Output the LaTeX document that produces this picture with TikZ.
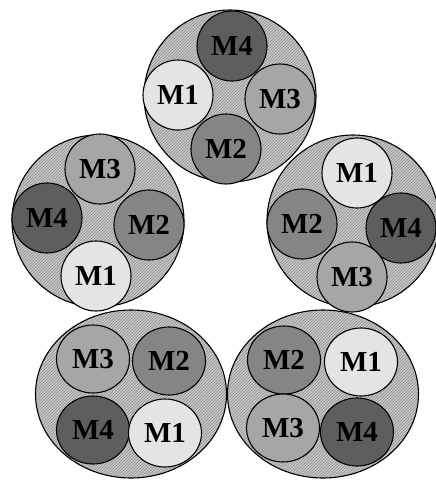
\documentclass[tikz,border=0pt]{standalone}
\usepackage{fontspec}
\setmainfont{Liberation Serif}
\usepackage{xcolor}
\definecolor{MSone}{HTML}{E4E4E4}
\definecolor{MStwo}{HTML}{858585}
\definecolor{MSthree}{HTML}{A6A6A6}
\definecolor{MSfour}{HTML}{5E5E5E}
\definecolor{MSbase}{HTML}{C8C8C8}
\definecolor{MShatch}{HTML}{8C8C8C}
\usetikzlibrary{shapes.geometric, patterns}

\begin{document}
\begin{tikzpicture}[x=1pt, y=-1pt]
    \tikzset{
  wheel/.style={circle, draw, line width=1.1pt, minimum size=172pt, inner sep=0,
                preaction={fill=MSbase}, pattern=north east lines, pattern color=MShatch},
  flatwheel/.style={wheel, ellipse, minimum width=191pt, minimum height=168pt},
  mdisk/.style={circle, draw, line width=1.1pt, minimum size=70pt, inner sep=0,
                font=\fontsize{29}{29}\selectfont\bfseries},
  flatdisk/.style={mdisk, ellipse, minimum width=73pt, minimum height=68pt},
  mone/.style={fill=MSone},
  mtwo/.style={fill=MStwo},
  mthree/.style={fill=MSthree},
  mfour/.style={fill=MSfour},
}
\useasboundingbox (0,0) rectangle (436,480);

% ── TOP wheel ───────────────────────────────────────────────
\node[wheel] (top) at (230,96) {};
\node[mdisk, mfour]  (top-m4) at (232,46)  {M4};
\node[mdisk, mone]   (top-m1) at (178,95)  {M1};
\node[mdisk, mthree] (top-m3) at (280,99)  {M3};
\node[mdisk, mtwo]   (top-m2) at (226,149) {M2};

% ── LEFT wheel ──────────────────────────────────────────────
\node[wheel] (left) at (98,221) {};
\node[mdisk, mthree] (left-m3) at (100,169) {M3};
\node[mdisk, mfour]  (left-m4) at (47,218)  {M4};
\node[mdisk, mtwo]   (left-m2) at (149,225) {M2};
\node[mdisk, mone]   (left-m1) at (96,276)  {M1};

% ── RIGHT wheel ─────────────────────────────────────────────
\node[wheel] (right) at (353,221) {};
\node[mdisk, mone]   (right-m1) at (357,173) {M1};
\node[mdisk, mtwo]   (right-m2) at (302,224) {M2};
\node[mdisk, mfour]  (right-m4) at (401,228) {M4};
\node[mdisk, mthree] (right-m3) at (352,277) {M3};

% ── BOTTOM LEFT wheel ───────────────────────────────────────
\node[flatwheel] (botleft) at (131,394) {};
\node[flatdisk, mthree] (botleft-m3) at (93,359)  {M3};
\node[flatdisk, mtwo]   (botleft-m2) at (169,361) {M2};
\node[flatdisk, mfour]  (botleft-m4) at (93,430)  {M4};
\node[flatdisk, mone]   (botleft-m1) at (165,433) {M1};

% ── BOTTOM RIGHT wheel ──────────────────────────────────────
\node[flatwheel] (botright) at (323,394) {};
\node[flatdisk, mtwo]   (botright-m2) at (284,360) {M2};
\node[flatdisk, mone]   (botright-m1) at (361,362) {M1};
\node[flatdisk, mthree] (botright-m3) at (283,428) {M3};
\node[flatdisk, mfour]  (botright-m4) at (357,432) {M4};

\end{tikzpicture}
\end{document}
